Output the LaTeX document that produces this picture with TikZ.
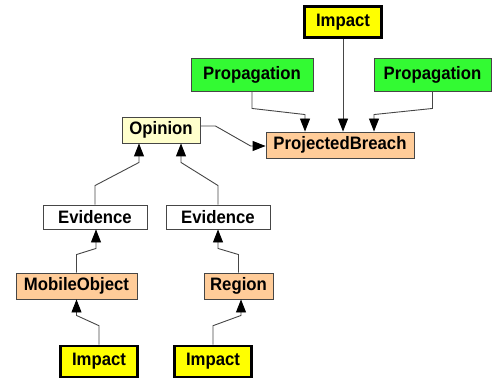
\documentclass[tikz,border=0pt]{standalone}
\usepackage{fontspec}
\setmainfont{Liberation Sans}
\usetikzlibrary{arrows.meta,positioning}
\definecolor{impfill}{RGB}{255,255,0}
\definecolor{propfill}{RGB}{51,250,51}
\definecolor{peach}{RGB}{255,204,153}
\definecolor{opfill}{RGB}{255,255,204}
\definecolor{edge}{RGB}{70,70,70}
\newcommand\lbl[1]{\scalebox{0.93}[1]{#1}}
\tikzset{
  box/.style={draw=edge, line width=0.9pt, inner sep=0pt, anchor=center,
    font=\fontsize{18}{20}\selectfont\bfseries},
  impactbox/.style={box, draw=black, line width=2.6pt, fill=impfill,
    minimum width=77pt, minimum height=31pt},
  propbox/.style={box, fill=propfill, minimum height=33pt},
  peachbox/.style={box, fill=peach, minimum height=26pt},
  evbox/.style={box, fill=white, minimum width=104pt, minimum height=24pt},
  conn/.style={draw=edge, line width=0.9pt,
    -{Triangle[length=13pt,width=10pt,fill=black,color=black]}},
}
\begin{document}
\begin{tikzpicture}[x=1pt,y=-1pt]
\useasboundingbox (0,0) rectangle (492,379);
% boxes
\node[impactbox] (impT) at (343,22) {\lbl{Impact}};
\node[propbox, minimum width=122pt] (propL) at (252,74.5) {\lbl{Propagation}};
\node[propbox, minimum width=117pt] (propR) at (432.5,74.5) {\lbl{Propagation}};
\node[peachbox, minimum width=148pt] (pb) at (340,145) {\lbl{ProjectedBreach}};
\node[box, fill=opfill, minimum width=78pt, minimum height=26pt] (op) at (161,130) {\lbl{Opinion}};
\node[evbox] (evL) at (95,217) {\lbl{Evidence}};
\node[evbox] (evR) at (218,217) {\lbl{Evidence}};
\node[peachbox, minimum width=121pt] (mob) at (76.5,286) {\lbl{MobileObject}};
\node[peachbox, minimum width=69pt] (reg) at (238.5,286) {\lbl{Region}};
\node[impactbox] (impL) at (99,361.5) {\lbl{Impact}};
\node[impactbox] (impR) at (213,361.5) {\lbl{Impact}};
% connectors
\draw[conn] (impT.south) -- (impT.south |- pb.north);
\draw[conn] (propL.south) -- ++(0,17) -- ([xshift=-35pt,yshift=17pt]pb.north) -- ([xshift=-35pt]pb.north);
\draw[conn] (propR.south) -- ++(0,17) -- ([xshift=34pt,yshift=17pt]pb.north) -- ([xshift=34pt]pb.north);
\draw[conn] ([yshift=4pt]op.east) -- ++(15,0) -- ([xshift=-15pt,yshift=-1pt]pb.west) -- ([yshift=-1pt]pb.west);
\draw[conn] (evL.north) -- ++(0,-19) -- ([xshift=-22pt,yshift=-19pt]op.south) -- ([xshift=-22pt]op.south);
\draw[conn] (evR.north) -- ++(0,-19) -- ([xshift=20pt,yshift=-19pt]op.south) -- ([xshift=20pt]op.south);
\draw[conn] (mob.north) -- ++(0,-18) -- ([xshift=1pt,yshift=-19pt]evL.south) -- ([xshift=1pt]evL.south);
\draw[conn] (reg.north) -- ++(0,-18) -- ([yshift=-19pt]evR.south) -- (evR.south);
\draw[conn] (impL.north) -- ++(0,-19) -- ([yshift=-16pt]mob.south) -- (mob.south);
\draw[conn] (impR.north) -- ++(0,-19) -- ([xshift=2.5pt,yshift=-16pt]reg.south) -- ([xshift=2.5pt]reg.south);
\end{tikzpicture}
\end{document}
